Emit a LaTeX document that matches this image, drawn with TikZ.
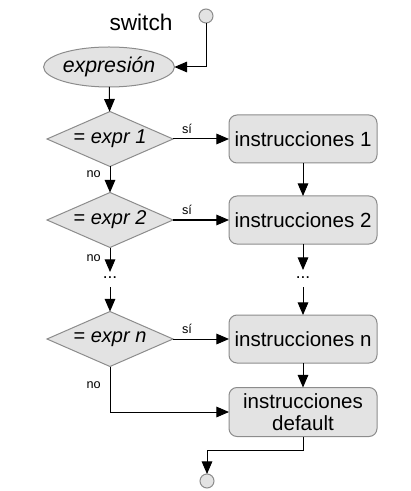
\documentclass[tikz,border=0pt]{standalone}
\usepackage{fontspec}
\setmainfont{Liberation Sans}
\usetikzlibrary{shapes.geometric,arrows.meta}
\begin{document}
\begin{tikzpicture}[x=0.75pt,y=-0.75pt,
  every node/.style={inner sep=0pt,outer sep=0pt},
  shp/.style={draw=black!45,fill=black!11,line width=0.75pt},
  term/.style={shp,circle,minimum size=10.5pt},
  oval/.style={shp,ellipse,minimum width=85.5pt,minimum height=30pt,font=\fontsize{16}{18}\selectfont\itshape},
  cond/.style={shp,diamond,minimum width=94.5pt,minimum height=41.25pt,aspect=2.25,font=\fontsize{15}{18}\selectfont},
  blk/.style={shp,rectangle,rounded corners=6pt,minimum width=111pt,minimum height=36pt,font=\fontsize{15.4}{17}\selectfont,align=center},
  lbl/.style={font=\fontsize{9.5}{10}\selectfont},
  dots/.style={font=\fontsize{13}{14}\selectfont},
  arr/.style={draw=black,line width=0.75pt,-{Triangle[length=9.5pt,width=8pt]}}]
\useasboundingbox (0,0) rectangle (410,491);
\node[term] (start) at (206,16) {};
\node[font=\fontsize{17}{18}\selectfont] (sw) at (141,22) {switch};
\node[oval] (ex) at (109,67) {expresión};
\node[cond] (d1) at (110,139) {= \textit{expr 1}};
\node[cond] (d2) at (110,220) {= \textit{expr 2}};
\node[cond] (dn) at (110,339) {= \textit{expr n}};
\node[blk] (b1) at (303,139) {instrucciones 1};
\node[blk] (b2) at (303,220) {instrucciones 2};
\node[blk] (bn) at (303,339) {instrucciones n};
\node[blk,minimum height=36.75pt] (bd) at (303,412) {instrucciones\\[-1pt]default};
\node[term] (end) at (207,481) {};
\node[dots] (dl) at (110,278) {...};
\node[dots] (dr) at (303,278) {...};
\coordinate (dlt) at (110,272);
\coordinate (dlb) at (110,287);
\coordinate (drt) at (303,270);
\coordinate (drb) at (303,287);
% connectors
\draw[arr] (start.south) |- (ex.east);
\draw[arr] (ex) -- (d1);
\draw[arr] (d1) -- node[lbl,above=4pt,pos=0.25]{sí} (b1);
\draw[arr] (d2) -- node[lbl,above=4pt,pos=0.25]{sí} (b2);
\draw[arr] (dn) -- node[lbl,above=4pt,pos=0.25]{sí} (bn);
\draw[arr] (d1) -- node[lbl,left=7pt,pos=0.3]{no} (d2);
\draw[arr] (d2.south) -- node[lbl,left=7pt,pos=0.45]{no} (dlt);
\draw[arr] (dlb) -- (dn.north);
\draw[arr] (b1) -- (b2);
\draw[arr] (b2.south) -- (drt);
\draw[arr] (drb) -- (bn.north);
\draw[arr] (bn) -- (bd);
\draw[arr] (dn.south) |- node[lbl,left=7pt,pos=0.2]{no} (bd.west);
\draw[arr] (bd.south) -- ++(0,14) -| (end.north);
\end{tikzpicture}
\end{document}
